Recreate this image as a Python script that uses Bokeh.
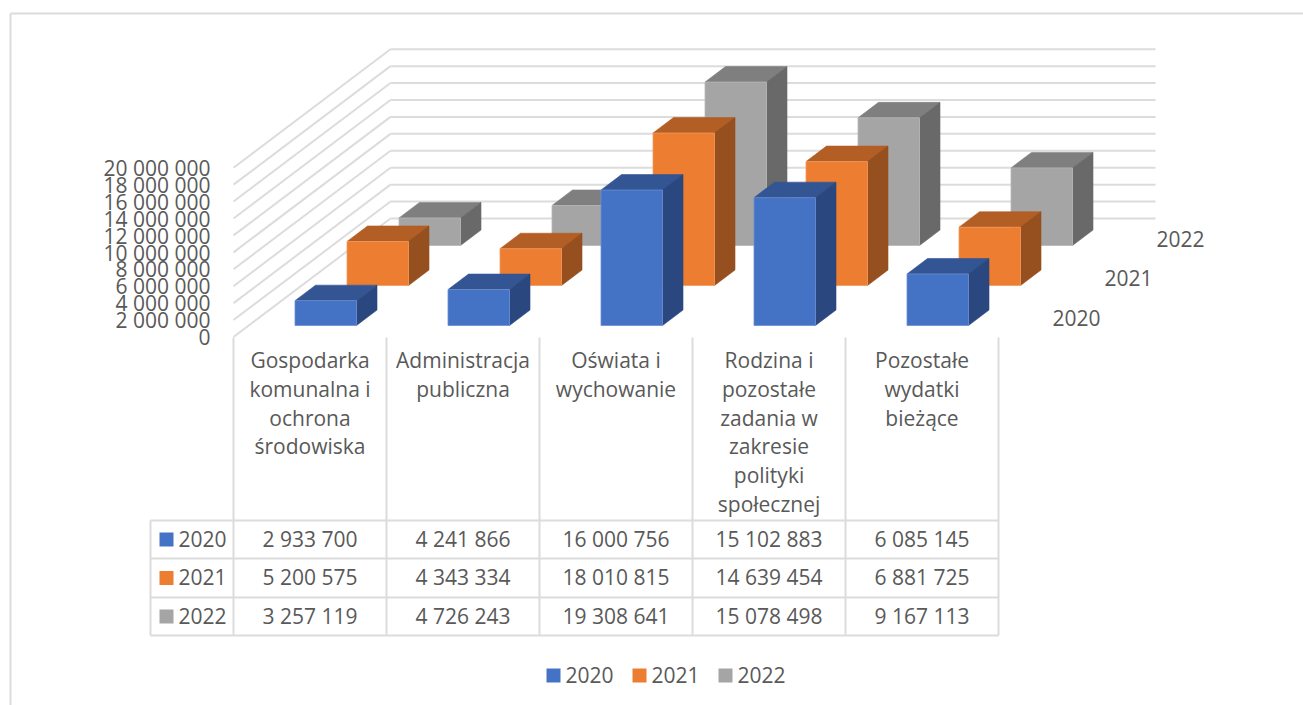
from bokeh.plotting import figure
from bokeh.embed import file_html
from bokeh.resources import INLINE
from bokeh.core.properties import value as V

# ---- data ----
categories = [
    ["Gospodarka", "komunalna i", "ochrona", "środowiska"],
    ["Administracja", "publiczna"],
    ["Oświata i", "wychowanie"],
    ["Rodzina i", "pozostałe", "zadania w", "zakresie", "polityki", "społecznej"],
    ["Pozostałe", "wydatki", "bieżące"],
]
series_names = ["2020", "2021", "2022"]
v2020 = [2933700, 4241866, 16000756, 15102883, 6085145]
v2021 = [5200575, 4343334, 18010815, 14639454, 6881725]
v2022 = [3257119, 4726243, 19308641, 15078498, 9167113]
series_values = [v2020, v2021, v2022]
tick_values = [0, 2000000, 4000000, 6000000, 8000000, 10000000,
               12000000, 14000000, 16000000, 18000000, 20000000]

# ---- styles ----
FONT = "Open Sans"
TXT = "#595959"
GRID = "#DCDCDC"
FRONT = ["#4472C4", "#ED7D31", "#A5A5A5"]
EDGE = ["#6C8FD0", "#F29A5E", "#B8B8B8"]
TOP = ["#335593", "#B25E25", "#7F7F7F"]
SIDE = ["#2A487F", "#964F1E", "#696969"]
FS = "21px"

# ---- layout (picture pixels) ----
W, H = 1303, 705
OX, OY = 0, 0
PX0, PXC = 233.0, 153.0      # category origin & pitch
PY0, PXM = 336.5, 8.465e-6   # value origin & pixels per unit

def dx(px):           # picture px -> category coordinate
    return (px - PX0) / PXC
def dy(py):           # picture px -> value coordinate
    return (PY0 - py) / PXM

p = figure(width=W, height=H, x_range=(dx(OX), dx(OX + W)), y_range=(dy(OY + H), dy(OY)),
           output_backend="svg", toolbar_location=None, min_border=0,
           x_axis_type=None, y_axis_type=None)
p.outline_line_color = None
p.grid.visible = False
p.background_fill_color = "white"
p.border_fill_color = "white"

def seg(x0, y0, x1, y1, w=2.0, c=GRID):
    p.line([dx(x0), dx(x1)], [dy(y0), dy(y1)], line_color=c, line_width=w)

def label(x, y, t, align="center", size=FS):
    p.text([dx(x)], [dy(y - 0.8)], text=[t], text_font=V(FONT), text_font_size=size,
           text_color=TXT, text_align=align, text_baseline="middle")

# outer frame
seg(10, 13, 10, OY + H, 2)
seg(10, 13, OX + W, 13, 2)

# walls
BX, BY = 390.0, 218.0        # back-wall origin
RX = 1155.0
n_cat = len(categories)
for t in tick_values:
    off = t * PXM
    seg(PX0, PY0 - off, BX, BY - off)
    seg(BX, BY - off, RX, BY - off)

# 3D bars
BAR0X, BAR_W = 294.5, 61.5
BAR_OFF = 153.0
SER_DX, SER_DY = 52.0, 40.0
DEP_X, DEP_Y = 20.5, 15.5
BASE = 325.0
for s in (2, 1, 0):
    f_x, f_y, t_x, t_y, r_x, r_y = [], [], [], [], [], []
    for c, v in enumerate(series_values[s]):
        x0 = dx(BAR0X + c * BAR_OFF + s * SER_DX)
        x1 = x0 + BAR_W / PXC
        b = dy(BASE - s * SER_DY)
        h = b + v
        ddx, ddy = DEP_X / PXC, DEP_Y / PXM
        f_x.append([x0, x1, x1, x0]); f_y.append([b, b, h, h])
        t_x.append([x0, x1, x1 + ddx, x0 + ddx]); t_y.append([h, h, h + ddy, h + ddy])
        r_x.append([x1, x1 + ddx, x1 + ddx, x1]); r_y.append([b, b + ddy, h + ddy, h])
    p.patches(t_x, t_y, fill_color=TOP[s], line_color=TOP[s], line_width=0.6)
    p.patches(r_x, r_y, fill_color=SIDE[s], line_color=SIDE[s], line_width=0.6)
    p.patches(f_x, f_y, fill_color=FRONT[s], line_color=EDGE[s], line_width=0.8)

# value-axis labels
for t in tick_values:
    label(210, PY0 + 1 - t * PXM, f"{t:,}".replace(",", " "), "right")

# depth-axis labels
for s, name in enumerate(series_names):
    label(1052 + s * 52, 318 - s * 39.5, name, "left")

# data table
T_ROWS = [520, 558, 597, 635]
T_L = 150
CAT_X = [PX0 + i * PXC for i in range(n_cat + 1)]
for i, x in enumerate(CAT_X):
    seg(x, 337, x, T_ROWS[-1])
seg(T_L, T_ROWS[0], T_L, T_ROWS[-1])
for y in T_ROWS:
    seg(T_L, y, CAT_X[-1], y)

for i, lines in enumerate(categories):
    cx = PX0 + (i + 0.5) * PXC
    for j, t in enumerate(lines):
        label(cx, 360 + j * 28.9, t)

ROW_Y = [539, 577.5, 616]
for s, name in enumerate(series_names):
    y = ROW_Y[s]
    p.quad(left=[dx(159)], right=[dx(173)], bottom=[dy(y + 7)], top=[dy(y - 7)],
           fill_color=FRONT[s], line_color=None)
    label(178, y, name, "left")
    for c, v in enumerate(series_values[s]):
        label(PX0 + (c + 0.5) * PXC, y, f"{v:,}".replace(",", " "))

# legend
LEG_X = [546, 632, 718]
for s, name in enumerate(series_names):
    x = LEG_X[s]
    p.quad(left=[dx(x)], right=[dx(x + 14)], bottom=[dy(682)], top=[dy(668)],
           fill_color=FRONT[s], line_color=None)
    label(x + 19, 675, name, "left")

open("out.html", "w").write(file_html(p, INLINE))
